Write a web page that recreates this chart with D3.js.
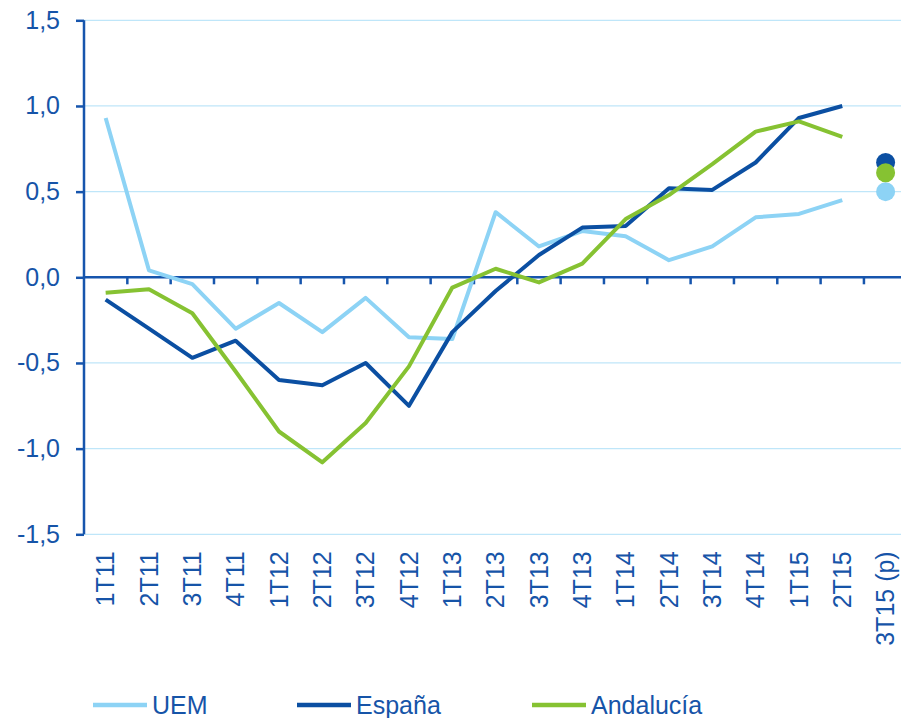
<!DOCTYPE html>
<html>
<head>
<meta charset="utf-8">
<script src="https://cdn.jsdelivr.net/npm/d3@7"></script>
<style>
  html, body { margin: 0; padding: 0; background: #fff; overflow: hidden; }
  svg { display: block; font-family: Arial, "Liberation Sans", sans-serif; }
</style>
</head>
<body>
<div id="chart"></div>
<script>
  const categories = ["1T11", "2T11", "3T11", "4T11", "1T12", "2T12", "3T12", "4T12",
    "1T13", "2T13", "3T13", "4T13", "1T14", "2T14", "3T14", "4T14", "1T15", "2T15", "3T15 (p)"];

  // quarterly series, 1T11 .. 2T15
  const uem = [0.93, 0.04, -0.04, -0.30, -0.15, -0.32, -0.12, -0.35, -0.36, 0.38,
    0.18, 0.27, 0.24, 0.10, 0.18, 0.35, 0.37, 0.45];
  const espana = [-0.13, -0.30, -0.47, -0.37, -0.60, -0.63, -0.50, -0.75, -0.32, -0.08,
    0.13, 0.29, 0.30, 0.52, 0.51, 0.67, 0.93, 1.00];
  const andalucia = [-0.09, -0.07, -0.21, -0.55, -0.90, -1.08, -0.85, -0.52, -0.06, 0.05,
    -0.03, 0.08, 0.34, 0.48, 0.66, 0.85, 0.91, 0.82];

  // forecast points for 3T15 (p)
  const forecast = [0.50, 0.67, 0.61];

  const yTicks = [-1.5, -1.0, -0.5, 0.0, 0.5, 1.0, 1.5];
  const seriesNames = ["UEM", "España", "Andalucía"];
  const seriesColors = ["#8dd3f5", "#0b4fa2", "#86c232"];
  const axisColor = "#1655ad";
  const textColor = "#1654a8";

  const width = 901, height = 718;
  const plotLeft = 84, band = 43.33;
  const plotTop = 20.3, plotBottom = 534.3;

  const svg = d3.select("#chart").append("svg")
    .attr("width", width)
    .attr("height", height);

  const x = d3.scaleBand()
    .domain(categories)
    .range([plotLeft, plotLeft + band * categories.length])
    .padding(0);

  const y = d3.scaleLinear()
    .domain([-1.5, 1.5])
    .range([plotBottom, plotTop]);

  const cx = (c) => x(c) + x.bandwidth() / 2;
  const fmt = (v) => d3.format(".1f")(v).replace(".", ",").replace("−", "-");

  // gridlines
  svg.append("g")
    .selectAll("line")
    .data(yTicks.filter(d => d !== 0))
    .join("line")
    .attr("x1", plotLeft)
    .attr("x2", x.range()[1])
    .attr("y1", d => y(d))
    .attr("y2", d => y(d))
    .attr("stroke", "#bfe6f9")
    .attr("stroke-width", 1.2);

  // y axis
  const yAxis = svg.append("g")
    .attr("transform", "translate(" + plotLeft + ",0)")
    .call(d3.axisLeft(y).tickValues(yTicks).tickSize(8).tickPadding(16).tickFormat(fmt));
  yAxis.select(".domain").attr("stroke", axisColor).attr("stroke-width", 2.5)
    .attr("d", "M0," + y(1.5) + "V" + y(-1.5));
  yAxis.selectAll(".tick line").attr("stroke", axisColor).attr("stroke-width", 2.5);
  yAxis.selectAll(".tick text")
    .attr("fill", textColor)
    .attr("font-size", 25)
    .attr("font-family", "Arial, 'Liberation Sans', sans-serif");

  // x axis along zero, tick marks at category boundaries
  const xAxis = svg.append("g").attr("transform", "translate(0," + y(0) + ")");
  xAxis.append("line")
    .attr("x1", plotLeft)
    .attr("x2", x.range()[1])
    .attr("stroke", axisColor)
    .attr("stroke-width", 2.5);
  xAxis.selectAll("line.tk")
    .data(categories.slice(1))
    .join("line")
    .attr("class", "tk")
    .attr("x1", d => x(d))
    .attr("x2", d => x(d))
    .attr("y1", 0)
    .attr("y2", 7)
    .attr("stroke", axisColor)
    .attr("stroke-width", 2.5);

  // category labels, rotated
  svg.append("g")
    .selectAll("text")
    .data(categories)
    .join("text")
    .attr("transform", d => "translate(" + cx(d) + "," + (plotBottom + 17) + ") rotate(-90)")
    .attr("text-anchor", "end")
    .attr("dy", "0.35em")
    .attr("fill", textColor)
    .attr("font-size", 25)
    .text(d => d);

  // lines
  const line = d3.line()
    .x((d, i) => cx(categories[i]))
    .y(d => y(d));

  [uem, espana, andalucia].forEach((vals, i) => {
    svg.append("path")
      .datum(vals)
      .attr("fill", "none")
      .attr("stroke", seriesColors[i])
      .attr("stroke-width", 4)
      .attr("stroke-linejoin", "round")
      .attr("d", line);
  });

  // forecast dots
  svg.append("g")
    .selectAll("circle")
    .data(forecast)
    .join("circle")
    .attr("cx", cx(categories[categories.length - 1]))
    .attr("cy", d => y(d))
    .attr("r", 9.5)
    .attr("fill", (d, i) => seriesColors[i]);

  // legend
  const legendX = [93, 297, 532];
  const legend = svg.append("g").attr("transform", "translate(0,705)");
  seriesNames.forEach((name, i) => {
    legend.append("line")
      .attr("x1", legendX[i])
      .attr("x2", legendX[i] + 54)
      .attr("stroke", seriesColors[i])
      .attr("stroke-width", 4.5);
    legend.append("text")
      .attr("x", legendX[i] + 59)
      .attr("dy", "0.35em")
      .attr("fill", textColor)
      .attr("font-size", 25)
      .text(name);
  });
</script>
</body>
</html>
